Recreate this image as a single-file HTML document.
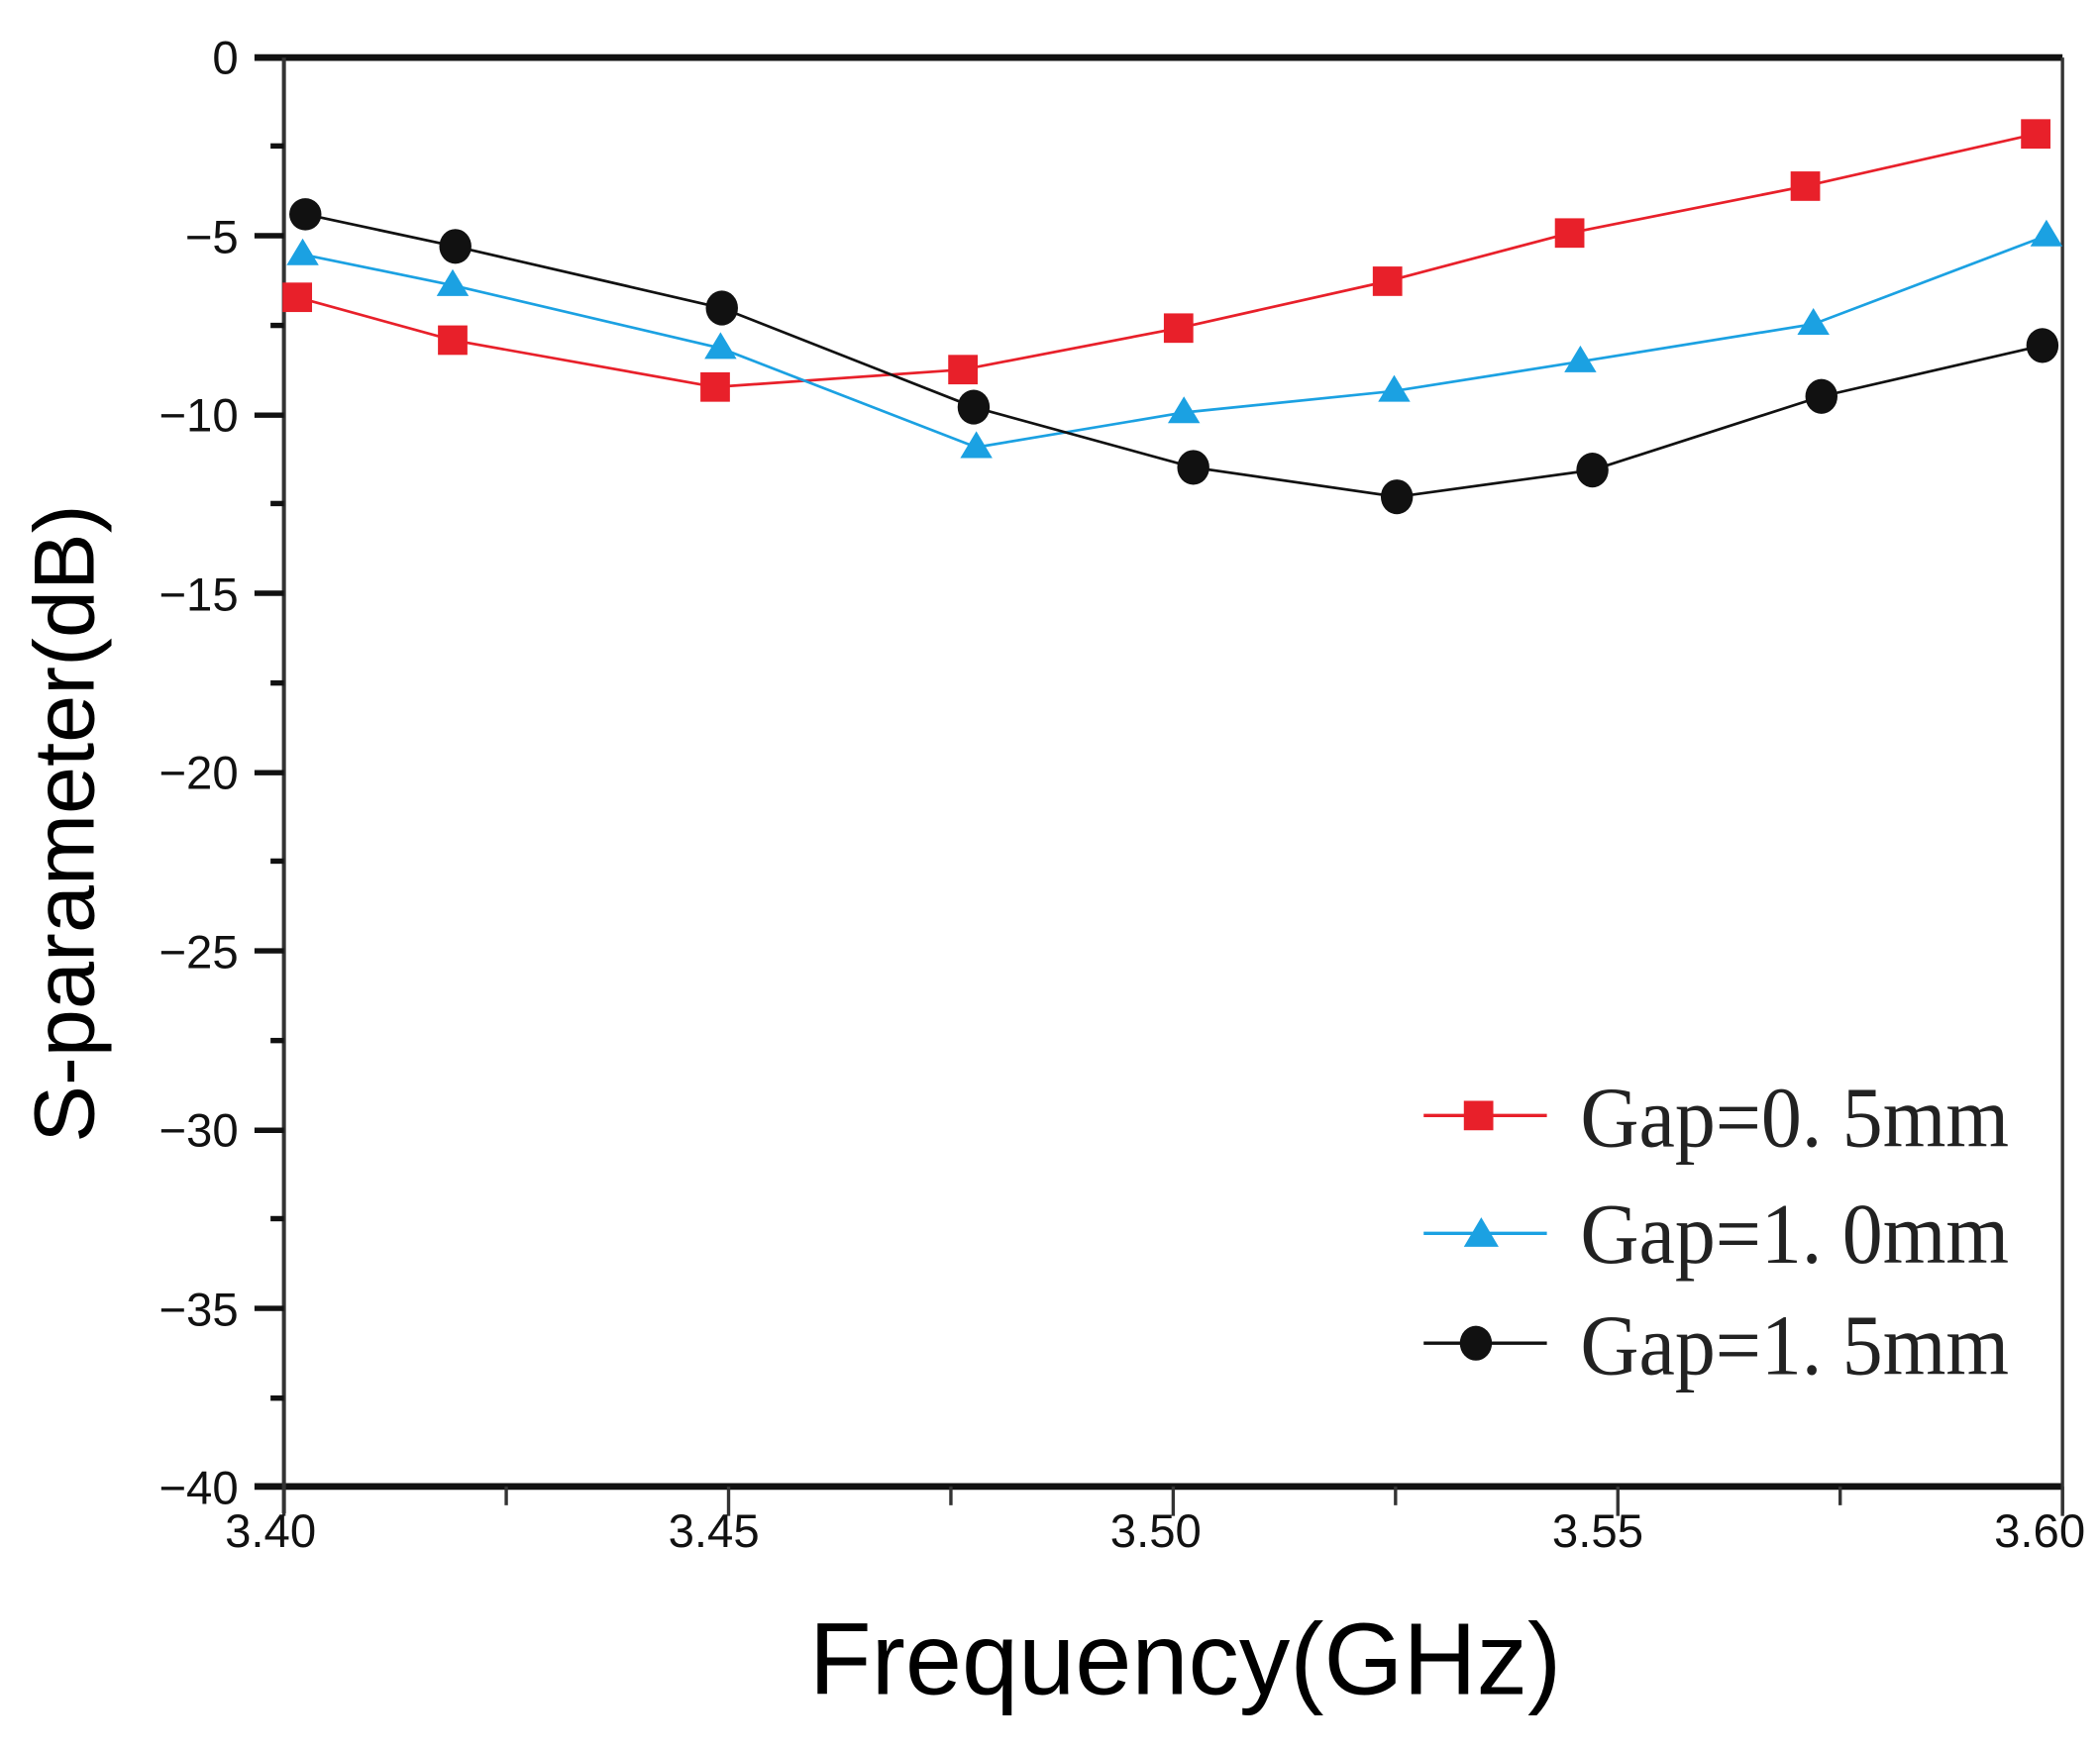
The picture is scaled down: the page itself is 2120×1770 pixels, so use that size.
<!DOCTYPE html>
<html><head><meta charset="utf-8"><style>html,body{margin:0;padding:0;background:#fff}svg{display:block}</style></head>
<body>
<svg width="2120" height="1770" viewBox="0 0 1568 1309" preserveAspectRatio="none" xmlns="http://www.w3.org/2000/svg" font-family="Liberation Sans, sans-serif">
<rect width="1568" height="1309" fill="#fff"/>
<line x1="190" y1="43" x2="1540" y2="43" stroke="#111" stroke-width="5"/>
<line x1="190" y1="1110" x2="1540" y2="1110" stroke="#111" stroke-width="5"/>
<line x1="212" y1="43" x2="212" y2="1130" stroke="#333" stroke-width="3"/>
<line x1="1540" y1="43" x2="1540" y2="1130" stroke="#333" stroke-width="2.5"/>
<g stroke="#111" stroke-width="4">
<line x1="190" y1="176" x2="212" y2="176"/><line x1="190" y1="310" x2="212" y2="310"/>
<line x1="190" y1="443" x2="212" y2="443"/><line x1="190" y1="577" x2="212" y2="577"/>
<line x1="190" y1="710" x2="212" y2="710"/><line x1="190" y1="844" x2="212" y2="844"/>
<line x1="190" y1="977" x2="212" y2="977"/>
</g>
<g stroke="#111" stroke-width="4">
<line x1="202" y1="109" x2="212" y2="109"/><line x1="202" y1="243" x2="212" y2="243"/>
<line x1="202" y1="376" x2="212" y2="376"/><line x1="202" y1="510" x2="212" y2="510"/>
<line x1="202" y1="643" x2="212" y2="643"/><line x1="202" y1="777" x2="212" y2="777"/>
<line x1="202" y1="910" x2="212" y2="910"/><line x1="202" y1="1044" x2="212" y2="1044"/>
</g>
<g font-size="35" fill="#111" text-anchor="end">
<text x="178" y="55">0</text><text x="178" y="189">−5</text><text x="178" y="322">−10</text>
<text x="178" y="456">−15</text><text x="178" y="589">−20</text><text x="178" y="723">−25</text>
<text x="178" y="856">−30</text><text x="178" y="990">−35</text><text x="178" y="1123">−40</text>
</g>
<g stroke="#333" stroke-width="2.5">
<line x1="212" y1="1110" x2="212" y2="1132"/><line x1="378" y1="1110" x2="378" y2="1124"/>
<line x1="544" y1="1110" x2="544" y2="1132"/><line x1="710" y1="1110" x2="710" y2="1124"/>
<line x1="876" y1="1110" x2="876" y2="1132"/><line x1="1042" y1="1110" x2="1042" y2="1124"/>
<line x1="1208" y1="1110" x2="1208" y2="1132"/><line x1="1374" y1="1110" x2="1374" y2="1124"/>
<line x1="1540" y1="1110" x2="1540" y2="1132"/>
</g>
<g font-size="35" fill="#111" text-anchor="middle">
<text x="202" y="1155">3.40</text><text x="533" y="1155">3.45</text><text x="863" y="1155">3.50</text>
<text x="1193" y="1155">3.55</text><text x="1523" y="1155">3.60</text>
</g>
<text x="885" y="1265" font-size="76" text-anchor="middle" fill="#000">Frequency(GHz)</text>
<text transform="translate(70,615) rotate(-90)" font-size="64" text-anchor="middle" fill="#000">S-parameter(dB)</text>
<polyline fill="none" stroke="#e8202a" stroke-width="2" points="222,222 338,254 534,289 719,276 880,245 1036,210 1172,174 1348,139 1520,100"/>
<polyline fill="none" stroke="#1ba1e2" stroke-width="2" points="226,190 338,213 538,260 729,334 884,308 1041,292 1180,270 1354,242 1528,176"/>
<polyline fill="none" stroke="#111" stroke-width="2" points="228,160 340,184 539,230 727,304 891,349 1043,371 1189,351 1360,296 1525,258"/>
<g fill="#e8202a">
<rect x="211" y="211" width="22" height="22"/><rect x="327" y="243" width="22" height="22"/><rect x="523" y="278" width="22" height="22"/>
<rect x="708" y="265" width="22" height="22"/><rect x="869" y="234" width="22" height="22"/><rect x="1025" y="199" width="22" height="22"/>
<rect x="1161" y="163" width="22" height="22"/><rect x="1337" y="128" width="22" height="22"/><rect x="1509" y="89" width="22" height="22"/>
</g>
<g fill="#1ba1e2">
<path d="M226,178 l12,20 h-24z"/><path d="M338,201 l12,20 h-24z"/><path d="M538,248 l12,20 h-24z"/>
<path d="M729,322 l12,20 h-24z"/><path d="M884,296 l12,20 h-24z"/><path d="M1041,280 l12,20 h-24z"/>
<path d="M1180,258 l12,20 h-24z"/><path d="M1354,230 l12,20 h-24z"/><path d="M1528,164 l12,20 h-24z"/>
</g>
<g fill="#111">
<ellipse cx="228" cy="160" rx="12" ry="12"/><ellipse cx="340" cy="184" rx="12" ry="13"/><ellipse cx="539" cy="230" rx="12" ry="13"/>
<ellipse cx="727" cy="304" rx="12" ry="13"/><ellipse cx="891" cy="349" rx="12" ry="13"/><ellipse cx="1043" cy="371" rx="12" ry="13"/>
<ellipse cx="1189" cy="351" rx="12" ry="13"/><ellipse cx="1360" cy="296" rx="12" ry="13"/><ellipse cx="1525" cy="258" rx="12" ry="13"/>
</g>
<line x1="1063" y1="833" x2="1155" y2="833" stroke="#e8202a" stroke-width="2.5"/>
<rect x="1093" y="822" width="22" height="22" fill="#e8202a"/>
<line x1="1063" y1="921" x2="1155" y2="921" stroke="#1ba1e2" stroke-width="2.5"/>
<path d="M1106,909 l13,22 h-26z" fill="#1ba1e2"/>
<line x1="1063" y1="1003" x2="1155" y2="1003" stroke="#111" stroke-width="2.5"/>
<ellipse cx="1102" cy="1003" rx="12" ry="13" fill="#111"/>
<g font-family="Liberation Serif, serif" font-size="64" fill="#222">
<text x="1180" y="856" textLength="320" lengthAdjust="spacingAndGlyphs">Gap=0. 5mm</text>
<text x="1180" y="943" textLength="320" lengthAdjust="spacingAndGlyphs">Gap=1. 0mm</text>
<text x="1180" y="1026" textLength="320" lengthAdjust="spacingAndGlyphs">Gap=1. 5mm</text>
</g>
</svg>
</body></html>
